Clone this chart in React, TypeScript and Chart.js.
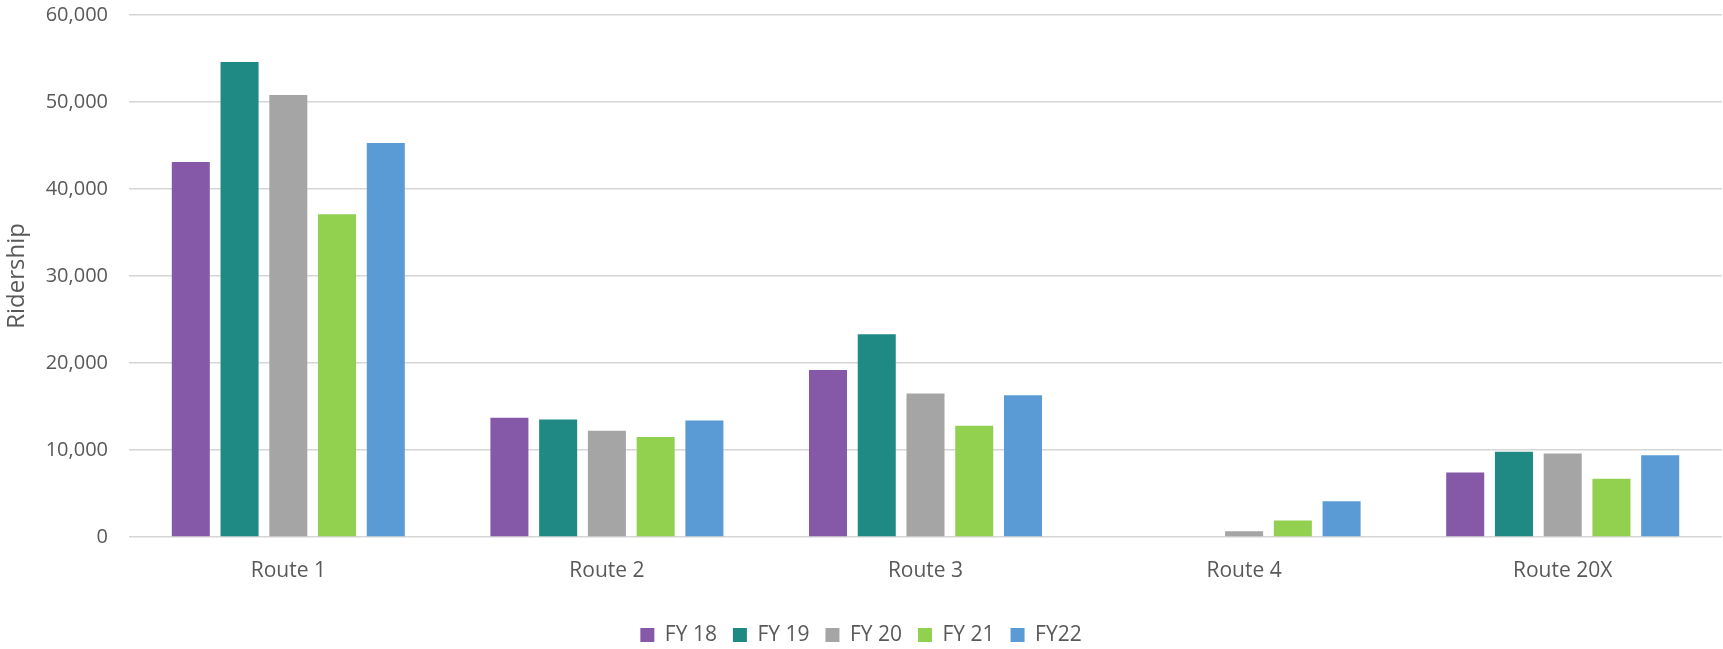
import React, { useEffect, useRef } from "react";
import { Chart, registerables } from "chart.js";

Chart.register(...registerables);

const categories = ["Route 1", "Route 2", "Route 3", "Route 4", "Route 20X"];
const seriesLabels = ["FY 18", "FY 19", "FY 20", "FY 21", "FY22"];
const fy18 = [43100, 13700, 19200, 0, 7400];
const fy19 = [54600, 13500, 23300, 0, 9800];
const fy20 = [50800, 12200, 16500, 650, 9600];
const fy21 = [37100, 11500, 12800, 1900, 6700];
const fy22 = [45300, 13400, 16300, 4100, 9400];
const seriesColors = ["#8559A8", "#1F8A84", "#A5A5A5", "#92D050", "#5B9BD5"];
const yTicks = [0, 10000, 20000, 30000, 40000, 50000, 60000];

const FONT = "'Open Sans', 'Noto Sans', sans-serif";
const TEXT = "#595959";

const legendTrim = {
  id: "legendTrim",
  beforeLayout(chart: any) {
    const lg: any = chart.legend;
    if (lg && !lg.__trimmed) {
      const orig = lg.fit.bind(lg);
      lg.fit = () => {
        orig();
        lg.height = Math.max(0, lg.height - 6.5);
      };
      lg.__trimmed = true;
    }
  },
};

export default function App() {
  const ref = useRef<HTMLCanvasElement | null>(null);

  useEffect(() => {
    if (!ref.current) return;
    const values = [fy18, fy19, fy20, fy21, fy22];
    const chart = new Chart(ref.current, {
      type: "bar",
      data: {
        labels: categories,
        datasets: seriesLabels.map((label, i) => ({
          label,
          data: values[i],
          backgroundColor: seriesColors[i],
          borderWidth: 0,
          barPercentage: 0.78,
          categoryPercentage: 0.765,
        })),
      },
      plugins: [legendTrim],
      options: {
        animation: false,
        responsive: true,
        maintainAspectRatio: false,
        layout: { padding: { top: 15, right: 1, bottom: 0, left: 0 } },
        plugins: {
          legend: {
            position: "bottom",
            labels: {
              boxWidth: 14,
              boxHeight: 14,
              padding: 16,
              color: TEXT,
              font: { family: FONT, size: 21 },
            },
          },
          tooltip: { enabled: false },
        },
        scales: {
          x: {
            grid: { display: false, drawTicks: false },
            border: { display: false },
            ticks: {
              color: TEXT,
              padding: 21,
              font: { family: FONT, size: 21 },
            },
            afterFit: (s: any) => {
              s.height = 71.5;
            },
          },
          y: {
            min: 0,
            max: 60000,
            afterBuildTicks: (s: any) => {
              s.ticks = yTicks.map((v) => ({ value: v }));
            },
            grid: {
              color: "#d6d6d6",
              lineWidth: 1.5,
              drawTicks: true,
              tickLength: 21,
              tickColor: "rgba(0,0,0,0)",
            },
            border: { display: false },
            ticks: {
              color: TEXT,
              padding: 0,
              font: { family: FONT, size: 20 },
              callback: (v: any) => Number(v).toLocaleString("en-US"),
            },
            title: {
              display: true,
              text: "Ridership",
              color: TEXT,
              padding: { top: 3, bottom: 0 },
              font: { family: FONT, size: 24 },
            },
            afterFit: (s: any) => {
              s.width = 129;
            },
          },
        },
      },
    });
    return () => chart.destroy();
  }, []);

  return (
    <div
      style={{
        position: "fixed",
        left: 0,
        top: 0,
        width: 1723,
        height: 649,
        background: "#ffffff",
      }}
    >
      <canvas ref={ref} />
    </div>
  );
}
